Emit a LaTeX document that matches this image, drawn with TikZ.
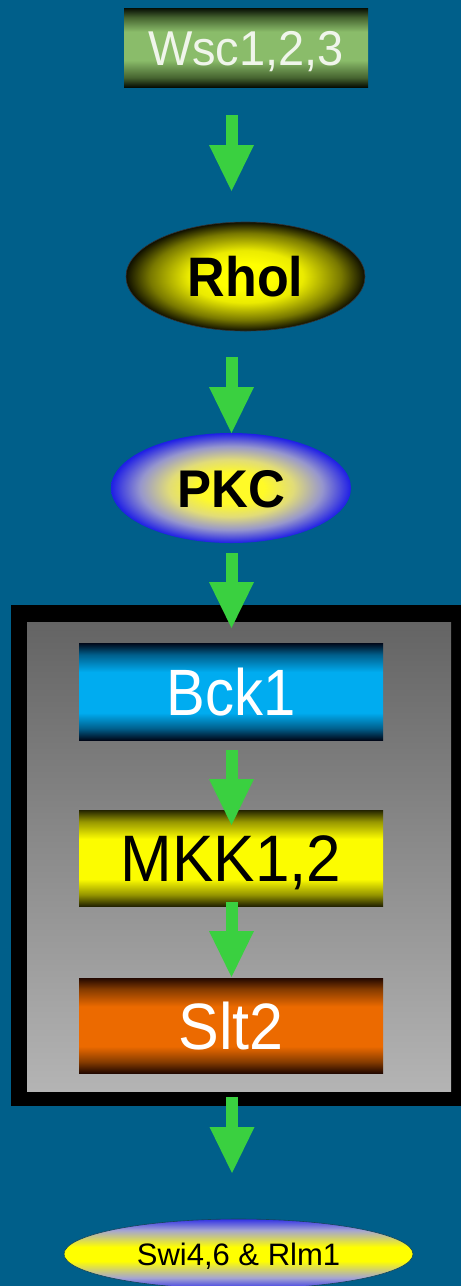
\documentclass[tikz,border=0pt]{standalone}
\usepackage{fontspec}
\usepackage{graphicx}
\setmainfont{Liberation Sans}
\usetikzlibrary{arrows.meta,shapes.geometric}
\definecolor{bg}{RGB}{0,95,138}
\definecolor{arrowgreen}{RGB}{58,208,64}
\definecolor{wscD}{RGB}{6,14,4}
\definecolor{wscM}{RGB}{70,100,48}
\definecolor{wscL}{RGB}{138,188,106}
\definecolor{bckD}{RGB}{0,8,25}
\definecolor{bckM}{RGB}{0,95,140}
\definecolor{bckL}{RGB}{0,172,240}
\definecolor{mkkD}{RGB}{35,35,0}
\definecolor{mkkM}{RGB}{150,150,0}
\definecolor{mkkL}{RGB}{252,252,0}
\definecolor{sltD}{RGB}{35,8,0}
\definecolor{sltM}{RGB}{135,60,0}
\definecolor{sltL}{RGB}{236,106,0}
\definecolor{rhoC}{RGB}{255,255,0}
\definecolor{rhoA}{RGB}{235,235,0}
\definecolor{rhoB}{RGB}{120,120,0}
\definecolor{rhoE}{RGB}{15,15,0}
\definecolor{pkcC}{RGB}{255,250,40}
\definecolor{pkcA}{RGB}{225,220,120}
\definecolor{pkcB}{RGB}{150,150,205}
\definecolor{pkcE}{RGB}{30,30,230}
\definecolor{swiB}{RGB}{50,50,230}
\definecolor{swiL}{RGB}{165,165,210}
\definecolor{swiY}{RGB}{255,255,0}
\definecolor{panelT}{RGB}{100,100,100}
\definecolor{panelB}{RGB}{180,180,180}
\definecolor{offwhite}{RGB}{240,245,235}
\newcommand\mkbarshade[5]{\pgfdeclareverticalshading{#1}{100bp}{color(0bp)=(#2); color(25bp)=(#2); color(31bp)=(#3); color(#5bp)=(#4); color(50bp)=(#4); color(60bp)=(#4); color(69bp)=(#3); color(75bp)=(#2); color(100bp)=(#2)}}
\mkbarshade{wscshade}{wscD}{wscM}{wscL}{42}
\mkbarshade{bckshade}{bckD}{bckM}{bckL}{39}
\mkbarshade{mkkshade}{mkkD}{mkkM}{mkkL}{39}
\mkbarshade{sltshade}{sltD}{sltM}{sltL}{39}
\pgfdeclareradialshading{rhoshade}{\pgfpoint{0bp}{0bp}}{color(0bp)=(rhoC); color(6bp)=(rhoC); color(12bp)=(rhoA); color(20bp)=(rhoB); color(25bp)=(rhoE); color(50bp)=(rhoE)}
\pgfdeclareradialshading{pkcshade}{\pgfpoint{0bp}{0bp}}{color(0bp)=(pkcC); color(7bp)=(pkcC); color(13bp)=(pkcA); color(19bp)=(pkcB); color(25bp)=(pkcE); color(50bp)=(pkcE)}
\pgfdeclareverticalshading{swishade}{100bp}{color(0bp)=(swiB); color(25bp)=(swiB); color(33bp)=(swiL); color(45bp)=(swiY); color(55bp)=(swiY); color(67bp)=(swiL); color(75bp)=(swiB); color(100bp)=(swiB)}
\newcommand\lbl[3]{\scalebox{1}[#2]{\fontsize{#1}{#1}\selectfont #3}}
\tikzset{
  garrow/.style={draw=arrowgreen, line width=12pt, line cap=butt,
    -{Triangle[width=45pt,length=46pt,fill=arrowgreen,line width=0pt]}},
  bar/.style={rectangle, draw=none, inner sep=0pt, minimum width=304pt},
  oval/.style={ellipse, inner sep=0pt},
}
\begin{document}
\begin{tikzpicture}[x=1pt,y=-1pt]
\useasboundingbox (0,0) rectangle (461,1286);
\fill[bg] (0,0) rectangle (461,1286);
% frame and panel
\fill[black] (11,605) rectangle (461,1106);
\shade[top color=panelT, bottom color=panelB] (27,622) rectangle (451,1091);
% nodes
\node[bar, shading=wscshade, minimum width=244pt, minimum height=79pt,
  text=offwhite, text height=35pt, text depth=0pt] (wsc) at (246,47.5) {\lbl{47}{1.04}{Wsc1,2,3}};
\node[oval, shading=rhoshade, draw=black!80, line width=0.6pt, minimum width=239pt, minimum height=109pt,
  text height=40pt, text depth=0pt] (rho) at (245.5,276.5) {\lbl{52}{1.07}{\bfseries Rhol}};
\node[oval, shading=pkcshade, minimum width=240pt, minimum height=110pt,
  text height=38pt, text depth=0pt] (pkc) at (231,488) {\lbl{51}{1.04}{\bfseries PKC}};
\node[bar, shading=bckshade, minimum height=97pt, text=white,
  text height=47pt, text depth=0pt] (bck) at (231,691.5) {\lbl{58}{1.13}{Bck1}};
\node[bar, shading=mkkshade, minimum height=96pt, text=black,
  text height=47pt, text depth=0pt] (mkk) at (231,858) {\lbl{62}{1.06}{MKK1,2}};
\node[bar, shading=sltshade, minimum height=95pt, text=white,
  text height=47pt, text depth=0pt] (slt) at (231,1025.5) {\lbl{61}{1.075}{Slt2}};
\node[oval, shading=swishade, draw={rgb,255:red,20;green,70;blue,90}, line width=0.6pt,
  minimum width=349pt, minimum height=70pt, text height=22pt, text depth=0pt] (swi) at (238.5,1254) {\lbl{31}{1}{Swi4,6 \& Rlm1}};
% arrows
\coordinate (a1s) at (231.5,115);  \coordinate (a1e) at (231.5,191);
\coordinate (a2s) at (231.5,357);  \coordinate (a2e) at (231.5,433);
\coordinate (a3s) at (231.5,553);  \coordinate (a3e) at (231.5,628);
\coordinate (a4s) at (231.5,750);  \coordinate (a4e) at (231.5,825);
\coordinate (a5s) at (231.5,902);  \coordinate (a5e) at (231.5,977);
\coordinate (a6s) at (232,1097);   \coordinate (a6e) at (232,1173);
\draw[garrow] (a1s) -- (a1e);
\draw[garrow] (a2s) -- (a2e);
\draw[garrow] (a3s) -- (a3e);
\draw[garrow] (a4s) -- (a4e);
\draw[garrow] (a5s) -- (a5e);
\draw[garrow] (a6s) -- (a6e);
\end{tikzpicture}
\end{document}
